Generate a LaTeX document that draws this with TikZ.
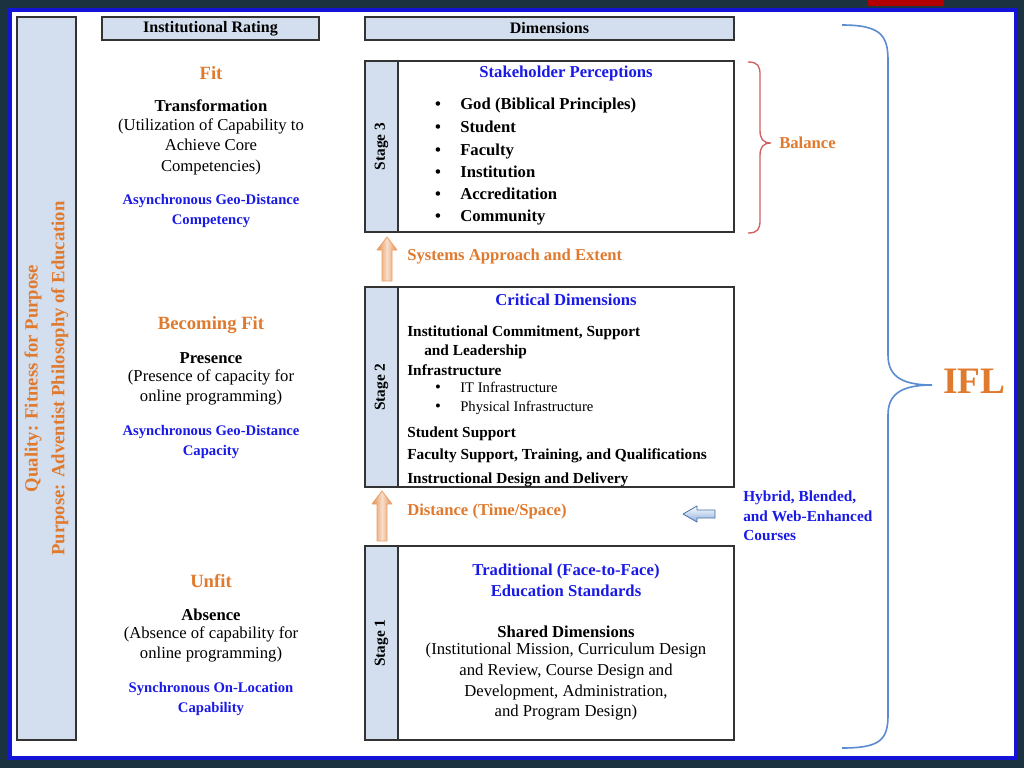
\documentclass[tikz,border=0pt]{standalone}
\usepackage{fontspec}
\setmainfont{Liberation Serif}
\definecolor{navy}{HTML}{1B3240}
\definecolor{frameblue}{HTML}{1414D8}
\definecolor{orng}{HTML}{E07A2E}
\definecolor{txtblue}{HTML}{1A1AE6}
\definecolor{lightbl}{HTML}{D3DFEE}
\definecolor{bracered}{HTML}{D06060}
\definecolor{bracebl}{HTML}{5B8BD0}
\begin{document}
\begin{tikzpicture}[x=0.75pt,y=-0.75pt,
  tx/.style={font=\fontsize{12.5}{15.5}\selectfont, inner sep=0pt, align=center},
  bt/.style={tx, font=\fontsize{12.5}{15.5}\selectfont\bfseries},
  ot/.style={bt, text=orng},
  blt/.style={bt, text=txtblue},
  hdr/.style={draw=black!80, fill=lightbl, line width=0.8pt},
  stagebox/.style={draw=black!80, line width=0.8pt},
  uparrow/.style={draw=orng!70, left color=orng!85, right color=orng!85, middle color=orng!25, line width=0.6pt, line join=round}]
\useasboundingbox (0,0) rectangle (1024,768);
\fill[navy] (0,0) rectangle (1024,768);
\fill[red!70!black] (868,0) rectangle (944,6);
\draw[frameblue, line width=3.5pt, fill=white] (10,10) rectangle (1016,758);
% left bar
\node[hdr, minimum width=59*0.75pt, minimum height=723*0.75pt, inner sep=0pt] (bar) at (46.5,378.5) {};
\node[ot, rotate=90, font=\fontsize{14}{20}\selectfont\bfseries] (bartxt) at (bar.center) {Quality: Fitness for Purpose\\Purpose: Adventist Philosophy of Education};
% headers
\node[hdr, minimum width=217*0.75pt, minimum height=23*0.75pt, inner sep=0pt, bt, font=\fontsize{12}{14}\selectfont\bfseries] (ir) at (210.5,28.5) {Institutional Rating};
\node[hdr, minimum width=369*0.75pt, minimum height=23*0.75pt, inner sep=0pt, bt, font=\fontsize{12}{14}\selectfont\bfseries] (dim) at (549.5,28.5) {Dimensions};
% left column
\node[ot, font=\fontsize{14}{16}\selectfont\bfseries] (fit) at (211,73) {Fit};
\node[bt] (transf) at (211,106) {Transformation};
\node[tx, anchor=north] (transd) at (211,118) {(Utilization of Capability to\\Achieve Core\\Competencies)};
\node[blt, font=\fontsize{11}{14.5}\selectfont\bfseries] (agdc) at (211,211) {Asynchronous Geo-Distance\\Competency};
\node[ot, font=\fontsize{14}{16}\selectfont\bfseries] (bfit) at (211,325) {Becoming Fit};
\node[bt] (pres) at (211,358) {Presence};
\node[tx, anchor=north] (presd) at (211,369) {(Presence of capacity for\\online programming)};
\node[blt, font=\fontsize{11}{14.5}\selectfont\bfseries] (agdcap) at (211,442) {Asynchronous Geo-Distance\\Capacity};
\node[ot, font=\fontsize{14}{16}\selectfont\bfseries] (unfit) at (211,581) {Unfit};
\node[bt] (abs) at (211,615) {Absence};
\node[tx, anchor=north] (absd) at (211,626) {(Absence of capability for\\online programming)};
\node[blt, font=\fontsize{11}{14.5}\selectfont\bfseries] (solc) at (211,699) {Synchronous On-Location\\Capability};
% stage boxes
\foreach \n/\a/\b/\lab in {s3/61/232/Stage 3, s2/287/487/Stage 2, s1/546/740/Stage 1}{
  \fill[lightbl] (365,\a) rectangle (398,\b);
  \draw[stagebox] (365,\a) rectangle (734,\b);
  \draw[stagebox] (398,\a) -- (398,\b);
  \node[bt, rotate=90, font=\fontsize{11.5}{13}\selectfont\bfseries] (\n) at (381.5,{(\a+\b)/2}) {\lab};
}
% stage 3
\node[blt] (sp) at (566,73) {Stakeholder Perceptions};
\foreach \y/\t [count=\i] in {109/God (Biblical Principles),132/Student,155/Faculty,177/Institution,199/Accreditation,221/Community}{
  \node[bt, anchor=base] (b3\i) at (438,\y) {\textbullet};
  \node[bt, anchor=base west] (t3\i) at (460,\y) {\t};
}
% stage 2
\node[blt] (cd) at (566,300) {Critical Dimensions};
\begin{scope}[every node/.style={bt, anchor=base west, font=\fontsize{11.5}{14}\selectfont\bfseries}]
\node (c1) at (407,336) {Institutional Commitment, Support};
\node (c2) at (424,355) {and Leadership};
\node (c3) at (407,375) {Infrastructure};
\node (c6) at (407,437) {Student Support};
\node (c7) at (407,459) {Faculty Support, Training, and Qualifications};
\node (c8) at (407,483) {Instructional Design and Delivery};
\end{scope}
\node[tx, anchor=base] (cb1) at (438,392) {\textbullet};
\node[tx, anchor=base west, font=\fontsize{11}{13}\selectfont] (c4) at (460,392) {IT Infrastructure};
\node[tx, anchor=base] (cb2) at (438,411) {\textbullet};
\node[tx, anchor=base west, font=\fontsize{11}{13}\selectfont] (c5) at (460,411) {Physical Infrastructure};
% stage 1
\node[blt] (trad) at (566,580) {Traditional (Face-to-Face)\\Education Standards};
\node[bt] (shd) at (566,632) {Shared Dimensions};
\node[tx, anchor=north] (shdd) at (566,643) {(Institutional Mission, Curriculum Design\\and Review, Course Design and\\Development, Administration,\\and Program Design)};
% arrows
\foreach \cx/\top/\bot in {387/237/281, 382/491/541}{
  \path[uparrow] (\cx-5,\bot) -- (\cx-5,\top+13) -- (\cx-10,\top+13) -- (\cx,\top) -- (\cx+10,\top+13) -- (\cx+5,\top+13) -- (\cx+5,\bot) -- cycle;
}
\node[ot, anchor=west] (sae) at (407,257) {Systems Approach and Extent};
\node[ot, anchor=west] (dts) at (407,511) {Distance (Time/Space)};
\path[draw=bracebl!80!black, top color=white, bottom color=bracebl!70, line width=0.6pt, line join=round]
  (715,510) -- (697,510) -- (697,506) -- (683,514) -- (697,522) -- (697,518) -- (715,518) -- cycle;
\node[blt, align=left, anchor=west, font=\fontsize{11.5}{14.5}\selectfont\bfseries] (hyb) at (743,516) {Hybrid, Blended,\\and Web-Enhanced\\Courses};
% balance brace
\draw[bracered, line width=1pt] (748,62) .. controls (758,62) and (760,66) .. (760,75) -- (760,130) .. controls (760,139) and (763,143) .. (771,143) .. controls (763,143) and (760,147) .. (760,156) -- (760,220) .. controls (760,229) and (758,233) .. (748,233);
\node[ot, anchor=west] (bal) at (779,143) {Balance};
% IFL brace
\draw[bracebl, line width=1.2pt] (842,25) .. controls (880,25) and (888,35) .. (888,60) -- (888,355) .. controls (888,375) and (900,385) .. (932,385) .. controls (900,385) and (888,395) .. (888,415) -- (888,715) .. controls (888,740) and (880,748) .. (842,748);
\node[ot, anchor=west, font=\fontsize{28}{30}\selectfont\bfseries] (ifl) at (943,381) {IFL};
\end{tikzpicture}
\end{document}
